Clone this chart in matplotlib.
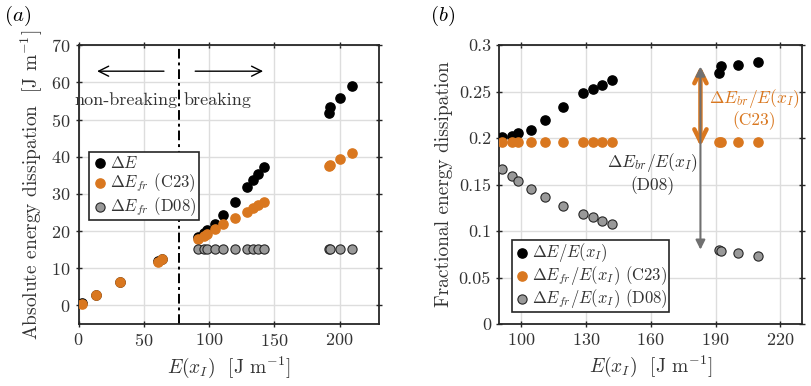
import matplotlib
matplotlib.use('Agg')
import matplotlib.pyplot as plt
import numpy as np

plt.rcParams['font.family'] = 'serif'
plt.rcParams['font.serif'] = ['cmr10', 'DejaVu Serif']
plt.rcParams['mathtext.fontset'] = 'cm'
plt.rcParams['axes.unicode_minus'] = False
plt.rcParams['axes.formatter.use_mathtext'] = True

ORANGE = '#D9771F'
GREY = '#999999'
DARK = '#262626'
TXT = '#333333'

# non-breaking waves
e_nb = [2.3, 13.0, 31.9, 60.9, 64.2]
de_nb = [0.6, 2.9, 6.4, 11.9, 12.5]
defr_c23_nb = [0.5, 2.7, 6.3, 11.8, 12.4]

# breaking waves
e_br = [91.3, 95.9, 98.7, 104.8, 111.0, 119.6, 128.8, 133.3, 137.3, 142.0,
        191.6, 192.7, 200.5, 209.5]
de_br = [18.4, 19.4, 20.3, 21.9, 24.3, 27.9, 31.9, 33.7, 35.3, 37.2,
         51.8, 53.5, 55.8, 59.0]
defr_c23_br = [17.9, 18.8, 19.3, 20.5, 21.8, 23.4, 25.2, 26.1, 26.9, 27.8,
               37.6, 37.8, 39.3, 41.1]
defr_d08_br = [15.2] * 14

frac_de = [0.2014, 0.2025, 0.206, 0.2086, 0.219, 0.233, 0.248, 0.2525, 0.257,
           0.262, 0.2705, 0.2777, 0.2785, 0.2817]
frac_c23 = [0.196] * 14
frac_d08 = [0.1667, 0.1595, 0.1538, 0.145, 0.137, 0.1272, 0.118, 0.1147,
            0.1108, 0.1075, 0.0796, 0.0788, 0.0763, 0.0728]

x_break = 77
ms = 44

def style_ax(ax):
  ax.grid(True, color='#dddddd', linewidth=1.0)
  ax.set_axisbelow(True)
  for s in ax.spines.values():
    s.set_color(DARK)
    s.set_linewidth(1.3)
  ax.tick_params(direction='inout', length=5, width=1.0, color=DARK,
                 labelcolor=TXT, labelsize=13, top=True, right=True)

def style_legend(leg):
  leg.get_frame().set_linewidth(1.2)
  for t in leg.get_texts():
    t.set_color(TXT)

fig = plt.figure(figsize=(8.11, 3.86), dpi=100)
ax1 = fig.add_axes([0.097, 0.1606, 0.370, 0.7224])
ax2 = fig.add_axes([0.6157, 0.1606, 0.3733, 0.7224])

# ---- panel (a)
style_ax(ax1)
ax1.scatter(e_nb, de_nb, s=ms, color='black', zorder=3)
ax1.scatter(e_nb, defr_c23_nb, s=ms, color=ORANGE, zorder=4)
ax1.scatter(e_br, de_br, s=ms, color='black', zorder=3, label=r'$\Delta E$')
ax1.scatter(e_br, defr_c23_br, s=ms, color=ORANGE, zorder=4,
            label=r'$\Delta E_{fr}$ (C23)')
ax1.scatter(e_br, defr_d08_br, s=ms, color=GREY, edgecolor=DARK,
            linewidth=0.8, zorder=4, label=r'$\Delta E_{fr}$ (D08)')
ax1.axvline(x_break, color='black', linewidth=1.4, zorder=2,
            dashes=(5, 2, 1.5, 2))
ax1.annotate('', xy=(12, 63), xytext=(67.5, 63),
             arrowprops=dict(arrowstyle='->', color='black', lw=1.0,
                             mutation_scale=18))
ax1.annotate('', xy=(143.5, 63), xytext=(87.2, 63),
             arrowprops=dict(arrowstyle='->', color='black', lw=1.0,
                             mutation_scale=18))
ax1.text(75.5, 55.2, 'non-breaking', ha='right', va='center', fontsize=13,
         color=TXT)
ax1.text(80.5, 55.2, 'breaking', ha='left', va='center', fontsize=13,
         color=TXT)
ax1.set_xlim(0, 230)
ax1.set_ylim(-5, 70)
ax1.set_xticks([0, 50, 100, 150, 200])
ax1.set_yticks(np.arange(0, 71, 10))
ax1.set_xlabel(r'$E(x_I)$  [J m$^{-1}$]', fontsize=14, color=TXT)
ax1.set_ylabel(r'Absolute energy dissipation  [J m$^{-1}$]', fontsize=14,
               color=TXT)
leg1 = ax1.legend(loc='upper left', bbox_to_anchor=(0.034, 0.616),
                  fontsize=12, handletextpad=0.1, borderpad=0.15,
                  labelspacing=0.05, handlelength=1.0, fancybox=False,
                  framealpha=1, edgecolor=DARK, borderaxespad=0)
style_legend(leg1)
fig.text(0.005, 0.96, r'$(a)$', fontsize=15, ha='left', va='center')

# ---- panel (b)
style_ax(ax2)
ax2.scatter(e_br, frac_de, s=ms, color='black', zorder=3,
            label=r'$\Delta E/E(x_I)$')
ax2.scatter(e_br, frac_c23, s=ms, color=ORANGE, zorder=4,
            label=r'$\Delta E_{fr}/E(x_I)$ (C23)')
ax2.scatter(e_br, frac_d08, s=ms, color=GREY, edgecolor=DARK,
            linewidth=0.8, zorder=4, label=r'$\Delta E_{fr}/E(x_I)$ (D08)')
ax2.annotate('', xy=(183, 0.2775), xytext=(183, 0.191),
             arrowprops=dict(arrowstyle='<->', color=ORANGE, lw=3.2,
                             mutation_scale=22, shrinkA=0, shrinkB=0),
             zorder=5)
ax2.annotate('', xy=(183, 0.277), xytext=(183, 0.08),
             arrowprops=dict(arrowstyle='<|-|>', color='#707070', lw=1.5,
                             mutation_scale=14, shrinkA=0, shrinkB=0),
             zorder=6)
ax2.text(208, 0.2315, r'$\Delta E_{br}/E(x_I)$' + '\n(C23)', ha='center',
         va='center', fontsize=12.5, color=ORANGE, linespacing=1.1)
ax2.text(161, 0.1625, r'$\Delta E_{br}/E(x_I)$' + '\n(D08)', ha='center',
         va='center', fontsize=12.5, color=TXT, linespacing=1.1)
ax2.set_xlim(90, 230)
ax2.set_ylim(0, 0.3)
ax2.set_xticks([100, 130, 160, 190, 220])
ax2.set_yticks([0, 0.05, 0.1, 0.15, 0.2, 0.25, 0.3])
ax2.set_yticklabels(['0', '0.05', '0.1', '0.15', '0.2', '0.25', '0.3'])
ax2.set_xlabel(r'$E(x_I)$  [J m$^{-1}$]', fontsize=14, color=TXT)
ax2.set_ylabel('Fractional energy dissipation', fontsize=14, color=TXT)
leg2 = ax2.legend(loc='lower left', bbox_to_anchor=(0.042, 0.043),
                  fontsize=12, handletextpad=0.1, borderpad=0.1,
                  labelspacing=0.0, handlelength=1.0, fancybox=False,
                  framealpha=1, edgecolor=DARK, borderaxespad=0)
style_legend(leg2)
fig.text(0.53, 0.96, r'$(b)$', fontsize=15, ha='left', va='center')

plt.savefig('out.png', dpi=100)
